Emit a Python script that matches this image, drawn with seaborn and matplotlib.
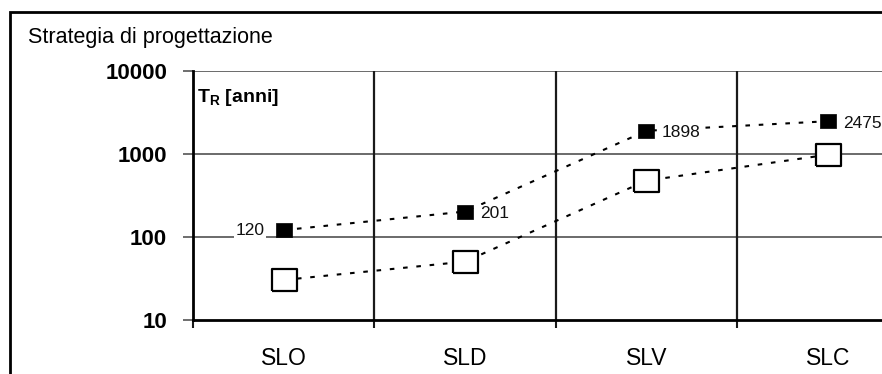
import matplotlib
matplotlib.use("Agg")
import matplotlib.pyplot as plt
import matplotlib.patches as mpatches
from matplotlib.ticker import FixedLocator, NullFormatter, FixedFormatter
import seaborn as sns
import pandas as pd
import numpy as np

# ---- data ----
categories = ["SLO", "SLD", "SLV", "SLC"]
tr_filled = [120, 201, 1898, 2475]   # black squares (labelled)
tr_open = [30, 50, 475, 975]         # open squares
point_labels = ["120", "201", "1898", "2475"]
y_ticks = [10, 100, 1000, 10000]
y_tick_labels = ["10", "100", "1000", "10000"]
title_text = "Strategia di progettazione"
ylabel_text = r"T$_\mathregular{R}$ [anni]"

sns.set_theme(style="white")
plt.rcParams["font.family"] = ["Liberation Sans", "DejaVu Sans"]
plt.rcParams["mathtext.fontset"] = "custom"
plt.rcParams["mathtext.rm"] = "Liberation Sans"
plt.rcParams["mathtext.bf"] = "Liberation Sans:bold"
plt.rcParams["text.color"] = "black"
plt.rcParams["xtick.color"] = "black"
plt.rcParams["ytick.color"] = "black"
plt.rcParams["xtick.labelcolor"] = "black"
plt.rcParams["ytick.labelcolor"] = "black"

W, H = 882, 374
fig = plt.figure(figsize=(W / 100, H / 100), dpi=100)
fig.patch.set_facecolor("white")

# axes placed in pixel terms (right side runs beyond the figure, as in the reference)
x0, x1 = 193, 918.5
y_top, y_bot = 71, 319.5
ax = fig.add_axes([x0 / W, (H - y_bot) / H, (x1 - x0) / W, (y_bot - y_top) / H])
ax.set_facecolor("white")

pos = np.arange(len(categories)) + 0.5
df = pd.DataFrame({"pos": pos, "cat": categories, "filled": tr_filled, "open": tr_open})

filled_marker = [(-1, -0.875), (1, -0.875), (1, 0.875), (-1, 0.875), (-1, -0.875)]
open_marker = [(-1, -0.846), (1, -0.846), (1, 0.846), (-1, 0.846), (-1, -0.846)]

sns.lineplot(data=df, x="pos", y="filled", ax=ax, color="black", lw=1.5,
             linestyle=(0, (2.2, 4.2)), marker=filled_marker, markersize=11.5,
             markerfacecolor="black", markeredgecolor="black", markeredgewidth=0.5,
             zorder=5)
sns.lineplot(data=df, x="pos", y="open", ax=ax, color="black", lw=1.5,
             linestyle=(0, (2.2, 4.2)), marker=open_marker, markersize=18,
             markerfacecolor="white", markeredgecolor="black", markeredgewidth=1.6,
             zorder=5)

ax.set_yscale("log")
ax.set_ylim(10, 10000)
ax.set_xlim(0, 4)

# grid lines
for yv in [100, 1000, 10000]:
    ax.axhline(yv, color="#6a6a6a", lw=1.4, zorder=1)
for xv in [1, 2, 3]:
    ax.axvline(xv, color="#1a1a1a", lw=1.6, zorder=1)

for s in ["top", "right"]:
    ax.spines[s].set_visible(False)
ax.spines["left"].set_color("black")
ax.spines["left"].set_linewidth(2.0)
ax.spines["bottom"].set_color("black")
ax.spines["bottom"].set_linewidth(2.0)

# y ticks
ax.yaxis.set_major_locator(FixedLocator(y_ticks))
ax.yaxis.set_major_formatter(FixedFormatter(y_tick_labels))
ax.yaxis.set_minor_locator(FixedLocator([]))
ax.tick_params(axis="y", which="major", length=7.2, width=1.2, color="#555555",
               pad=11.5, labelsize=16, left=True, labelcolor="black")
for t in ax.get_yticklabels():
    t.set_fontweight("bold")

# x ticks: boundaries as ticks, labels at centres
ax.xaxis.set_major_locator(FixedLocator([0, 1, 2, 3, 4]))
ax.xaxis.set_major_formatter(NullFormatter())
ax.xaxis.set_minor_locator(FixedLocator(list(pos)))
ax.xaxis.set_minor_formatter(FixedFormatter(categories))
ax.tick_params(axis="x", which="major", length=6, width=1.5, color="#1a1a1a", bottom=True)
ax.tick_params(axis="x", which="minor", length=0, pad=20, labelsize=16.5, bottom=True,
               labelcolor="black")
ax.set_xlabel("")
ax.set_ylabel("")

# point labels
for i, (p, v, lab) in enumerate(zip(pos, tr_filled, point_labels)):
    if i == 0:
        ax.annotate(lab, (p, v), xytext=(-14, 0), textcoords="offset points",
                    ha="right", va="center", fontsize=12.5, zorder=6, color="#111111",
                    bbox=dict(facecolor="white", edgecolor="none", pad=1.0))
    else:
        ax.annotate(lab, (p, v), xytext=(11, -1.5), textcoords="offset points",
                    ha="left", va="center", fontsize=12.5, zorder=6, color="#111111",
                    bbox=dict(facecolor="white", edgecolor="none", pad=0.8))

# axis label inside the plot
ax.text(0.006, 0.895, ylabel_text, transform=ax.transAxes, fontsize=14,
        fontweight="bold", ha="left", va="center", color="black")

# title
fig.text(28 / W, 1 - 37 / H, title_text, fontsize=15.5, ha="left", va="center",
         color="black")

# figure frame (cut at right and bottom)
frame = mpatches.Rectangle((9.5 / W, -0.2), 2.0, 1 - 12 / H + 0.2,
                           transform=fig.transFigure, fill=False,
                           edgecolor="black", lw=2.0, zorder=0)
fig.patches.append(frame)

fig.savefig("out.png", dpi=100)
